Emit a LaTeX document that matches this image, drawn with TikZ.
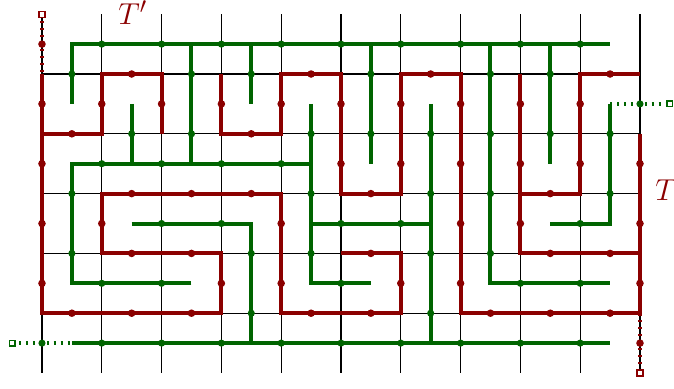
\documentclass[tikz,border=0pt]{standalone}
\definecolor{tred}{RGB}{139,0,0}
\definecolor{tgreen}{RGB}{0,100,0}
\newcommand{\mytreepath}[4]{\draw[#1] (#3) foreach \n in {#4} { -- node[#2]{} (\n) };}
\begin{document}
\begin{tikzpicture}[x=1cm,y=1cm,
  gridline/.style={line width=0.6pt, black},
  redline/.style={tred, line width=1.9pt, line join=miter},
  greenline/.style={tgreen, line width=1.9pt, line join=miter},
  rdot/.style={circle, fill=tred, inner sep=0pt, minimum size=3.6pt},
  gdot/.style={circle, fill=tgreen, inner sep=0pt, minimum size=3.4pt},
  reddots/.style={tred, line width=1.5pt, dash pattern=on 1.1pt off 2.2pt},
  greendots/.style={tgreen, line width=1.9pt, dash pattern=on 1.1pt off 2.2pt},
  rsq/.style={rectangle, draw=tred, fill=white, line width=0.6pt, minimum size=2.8pt, inner sep=0pt},
  gsq/.style={rectangle, draw=tgreen, fill=white, line width=0.6pt, minimum size=2.8pt, inner sep=0pt},
  lab/.style={text=tred, font=\fontsize{15}{18}\selectfont, inner sep=0pt, anchor=base west}]
\useasboundingbox (-0.702,-5.251) rectangle (10.569,1.2375);
% coordinates
\foreach \i in {0,...,10} \foreach \k in {0,...,4} \coordinate (p-\i-\k) at (\i,-\k);
\foreach \i in {0,...,9} \foreach \j in {0,...,5} \coordinate (q-\i-\j) at (\i+0.5,0.5-\j);
\coordinate (rtop) at (0,1);
\coordinate (rbot) at (10,-5);
\coordinate (gleft) at (-0.5,-4.5);
\coordinate (gright) at (10.5,-0.5);
% grid
\foreach \i in {0,...,10} \draw[gridline] (\i,1) -- (\i,-5);
\foreach \k in {0,...,4} \draw[gridline] (p-0-\k) -- (p-10-\k);
% green tree
\mytreepath{greenline}{gdot}{q-0-1}{q-0-0,q-1-0,q-2-0,q-3-0,q-4-0,q-5-0,q-6-0,q-7-0,q-8-0,q-9-0}
\mytreepath{greenline}{gdot}{q-1-1}{q-1-2}
\mytreepath{greenline}{gdot}{q-2-0}{q-2-1,q-2-2}
\mytreepath{greenline}{gdot}{q-3-0}{q-3-1}
\mytreepath{greenline}{gdot}{q-5-0}{q-5-1,q-5-2}
\mytreepath{greenline}{gdot}{q-7-0}{q-7-1,q-7-2,q-7-3,q-7-4,q-8-4,q-9-4}
\mytreepath{greenline}{gdot}{q-8-0}{q-8-1,q-8-2}
\mytreepath{greenline}{gdot}{q-2-4}{q-1-4,q-0-4,q-0-3,q-0-2,q-1-2,q-2-2,q-3-2,q-4-2}
\mytreepath{greenline}{gdot}{q-4-1}{q-4-2,q-4-3,q-4-4,q-5-4}
\mytreepath{greenline}{gdot}{q-4-3}{q-5-3,q-6-3}
\mytreepath{greenline}{gdot}{q-6-1}{q-6-2,q-6-3,q-6-4,q-6-5}
\mytreepath{greenline}{gdot}{q-1-3}{q-2-3,q-3-3,q-3-4,q-3-5}
\mytreepath{greenline}{gdot}{q-9-1}{q-9-2,q-9-3,q-8-3}
\mytreepath{greenline}{gdot}{q-0-5}{q-1-5,q-2-5,q-3-5,q-4-5,q-5-5,q-6-5,q-7-5,q-8-5,q-9-5}
% red tree
\mytreepath{redline}{rdot}{p-0-0}{p-0-1,p-0-2,p-0-3,p-0-4,p-1-4,p-2-4,p-3-4,p-3-3,p-2-3,p-1-3,p-1-2,p-2-2,p-3-2,p-4-2,p-4-3,p-4-4,p-5-4,p-6-4,p-6-3,p-5-3}
\mytreepath{redline}{rdot}{p-0-1}{p-1-1,p-1-0,p-2-0,p-2-1}
\mytreepath{redline}{rdot}{p-3-0}{p-3-1,p-4-1,p-4-0,p-5-0,p-5-1,p-5-2,p-6-2,p-6-1,p-6-0,p-7-0,p-7-1,p-7-2,p-7-3,p-7-4,p-8-4,p-9-4,p-10-4,p-10-3,p-10-2,p-10-1}
\mytreepath{redline}{rdot}{p-10-3}{p-9-3,p-8-3,p-8-2,p-8-1,p-8-0}
\mytreepath{redline}{rdot}{p-8-2}{p-9-2,p-9-1,p-9-0,p-10-0}
% dotted root edges
\draw[reddots] (rtop) -- node[rdot]{} (p-0-0);
\draw[reddots] (p-10-4) -- node[rdot]{} (rbot);
\draw[greendots] (gleft) -- node[gdot]{} (q-0-5);
\draw[greendots] (q-9-1) -- node[gdot]{} (gright);
\node[rsq] (rtopsq) at (rtop) {};
\node[rsq] (rbotsq) at (rbot) {};
\node[gsq] (gleftsq) at (gleft) {};
\node[gsq] (grightsq) at (gright) {};
% labels
\node[lab] (Tp) at (1.27,0.82) {$T'$};
\node[lab] (T) at (10.25,-2.107) {$T$};
\end{tikzpicture}
\end{document}
